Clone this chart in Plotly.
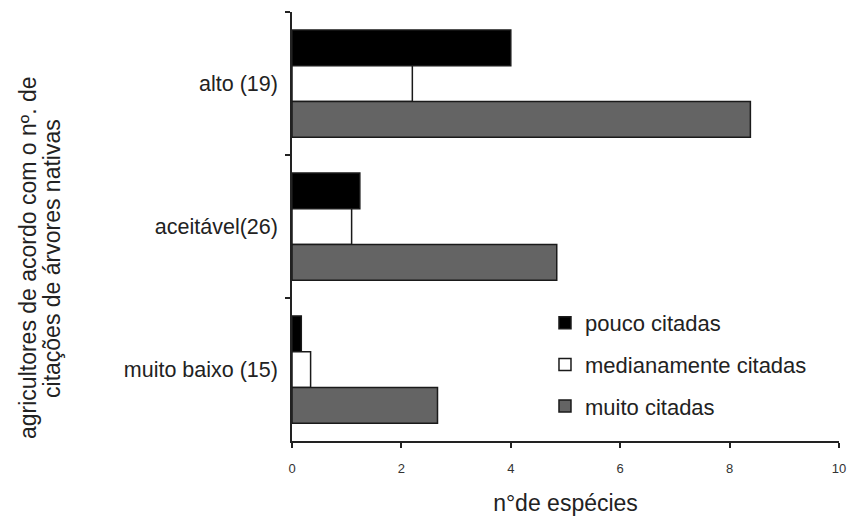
import plotly.graph_objects as go

categories = ["alto (19)", "aceitável(26)", "muito baixo (15)"]
series_names = ["pouco citadas", "medianamente citadas", "muito citadas"]
pouco = [4.0, 1.24, 0.17]
mediano = [2.2, 1.09, 0.34]
muito = [8.38, 4.84, 2.66]
x_ticks = [0, 2, 4, 6, 8, 10]
y_title_lines = ["agricultores de acordo com o nº. de", "citações de árvores nativas"]
x_title = "n°de espécies"

colors = ["#000000", "#ffffff", "#646464"]
values = [pouco, mediano, muito]

FONT = "Arial, Liberation Sans, sans-serif"

fig = go.Figure()
for i, (name, vals, col) in enumerate(zip(series_names, values, colors)):
    fig.add_trace(go.Bar(
        y=categories, x=vals, name=name, orientation="h",
        marker=dict(color=col, line=dict(color="#1a1a1a", width=1.5)),
        legendgroup=f"g{i}",
    ))

fig.update_layout(
    width=848, height=516,
    margin=dict(l=292, r=9, t=12, b=75),
    paper_bgcolor="white", plot_bgcolor="white",
    barmode="group", bargap=0.25, bargroupgap=0,
    font=dict(family=FONT, color="#222222"),
    showlegend=True,
    legend=dict(
        x=0.4625, y=0.324, xanchor="left", yanchor="top",
        font=dict(size=22, color="#222222"),
        traceorder="grouped", tracegroupgap=10,
        bgcolor="rgba(0,0,0,0)",
    ),
    xaxis=dict(
        range=[0, 10], tickvals=x_ticks, ticktext=[str(t) for t in x_ticks],
        automargin=False, ticklabeloverflow="allow",
        showgrid=False, zeroline=False, showline=True, linecolor="#222222", linewidth=1.5,
        ticks="outside", ticklen=5, tickwidth=1.5, tickcolor="#222222",
        tickfont=dict(size=13, color="#333333"), ticklabelstandoff=10,
        title=dict(text=x_title, font=dict(size=23, color="#222222"), standoff=25),
    ),
    yaxis=dict(
        autorange="reversed", automargin=False, showgrid=False, zeroline=False,
        showline=True, linecolor="#222222", linewidth=1.5,
        ticks="outside", ticklen=5, tickwidth=1.5, tickcolor="#222222",
        tickson="boundaries",
        tickfont=dict(size=21.5, color="#222222"), ticklabelstandoff=8,
    ),
)

for txt, xp in zip(y_title_lines, [-0.4826, -0.4388]):
    fig.add_annotation(
        text=txt, textangle=-90, xref="paper", yref="paper",
        x=xp, y=0.4266, xanchor="center", yanchor="middle",
        showarrow=False, font=dict(size=23, color="#222222"),
    )

# remove the browser's default 8px body margin so the 848x516 figure fills the window exactly
fig.write_html(
    "out.html",
    config={"displayModeBar": False},
    post_script="document.body.style.margin='0';document.body.style.overflow='hidden';",
)
